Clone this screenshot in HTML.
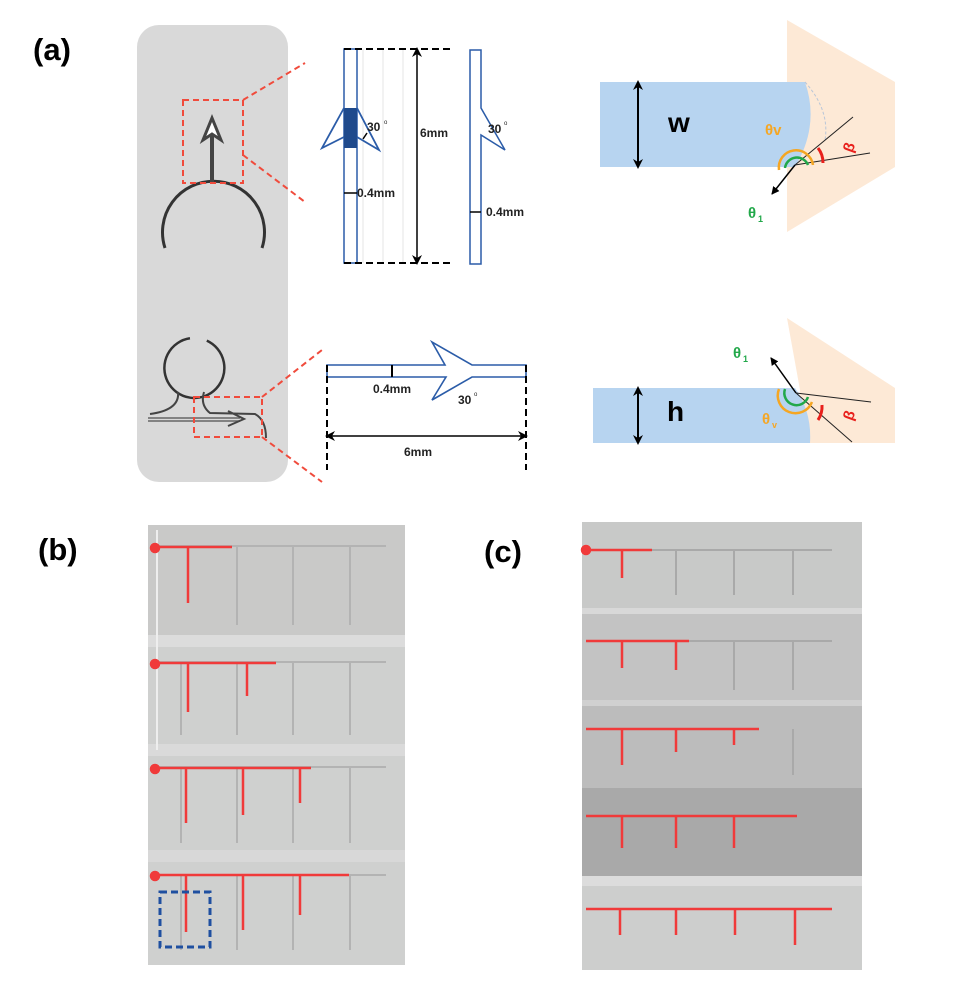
<!DOCTYPE html>
<html><head><meta charset="utf-8"><style>
html,body{margin:0;padding:0;background:#fff;}
svg{display:block;font-family:"Liberation Sans",sans-serif;}
</style></head><body>
<svg width="955" height="983" viewBox="0 0 955 983" xmlns="http://www.w3.org/2000/svg">
<defs>
<marker id="ah" markerWidth="8" markerHeight="8" refX="7" refY="4" orient="auto" markerUnits="userSpaceOnUse"><path d="M0,0 L8,4 L0,8 Z" fill="#000"/></marker>
<marker id="ahs" markerWidth="10" markerHeight="10" refX="5" refY="5" orient="auto-start-reverse" markerUnits="userSpaceOnUse"><path d="M0,0 L10,5 L0,10 L3,5 Z" fill="#000"/></marker>
</defs>
<text x="33" y="60" font-size="31" font-weight="bold">(a)</text>
<text x="38" y="560" font-size="31" font-weight="bold">(b)</text>
<text x="484" y="562" font-size="31" font-weight="bold">(c)</text>

<rect x="137" y="25" width="151" height="457" rx="22" fill="#d9d9d9"/>
<path d="M165,248 A51,51 0 1 1 262,248" fill="none" stroke="#333" stroke-width="3"/>
<line x1="212" y1="184" x2="212" y2="120" stroke="#444" stroke-width="4"/>
<path d="M203,140 L212,118 L221,140 L212,134 Z" fill="#fff" stroke="#444" stroke-width="3"/>
<rect x="183" y="100" width="60" height="83" fill="none" stroke="#f04b3c" stroke-width="2" stroke-dasharray="6,4"/>
<line x1="243" y1="100" x2="305" y2="63" stroke="#f04b3c" stroke-width="2" stroke-dasharray="6,4"/>
<line x1="243" y1="155" x2="305" y2="202" stroke="#f04b3c" stroke-width="2" stroke-dasharray="6,4"/>
<path d="M186,339 A30,30 0 1 0 203,339" fill="none" stroke="#333" stroke-width="2.5" transform="rotate(8 193 367)"/>
<path d="M178,392 Q180,410 150,414 M204,392 Q200,405 210,413 L255,414 Q266,420 266,438" fill="none" stroke="#444" stroke-width="2"/>
<path d="M148,418 L240,418 M148,421 L240,421" stroke="#666" stroke-width="1.5"/>
<path d="M228,411 L244,419 L228,426" fill="none" stroke="#444" stroke-width="2"/>
<rect x="194" y="397" width="68" height="40" fill="none" stroke="#f04b3c" stroke-width="2" stroke-dasharray="6,4"/>
<line x1="262" y1="397" x2="322" y2="350" stroke="#f04b3c" stroke-width="2" stroke-dasharray="6,4"/>
<line x1="262" y1="437" x2="322" y2="482" stroke="#f04b3c" stroke-width="2" stroke-dasharray="6,4"/>

<g stroke="#e4e4e4" stroke-width="1"><line x1="363" y1="49" x2="363" y2="263"/><line x1="383" y1="49" x2="383" y2="263"/><line x1="403" y1="49" x2="403" y2="263"/></g>
<rect x="344" y="49" width="13" height="214" fill="#fff" stroke="#2b5ca8" stroke-width="1.5"/>
<rect x="344" y="108" width="13" height="40" fill="#1f4a8c"/>
<path d="M344,108 L322,148 L344,137 M357,108 L379,150 L357,137" fill="none" stroke="#2b5ca8" stroke-width="1.8"/>
<path d="M363,139 L367,133" stroke="#000" stroke-width="1.5"/>
<text x="367" y="131" font-size="12" font-weight="bold" fill="#222">30</text><text x="384" y="124" font-size="6" fill="#222">o</text>
<line x1="344" y1="193" x2="357" y2="193" stroke="#000" stroke-width="1.5"/>
<text x="357" y="197" font-size="12" font-weight="bold" fill="#222">0.4mm</text>
<line x1="344" y1="49" x2="453" y2="49" stroke="#000" stroke-width="2" stroke-dasharray="7,4"/>
<line x1="344" y1="263" x2="453" y2="263" stroke="#000" stroke-width="2" stroke-dasharray="7,4"/>
<line x1="417" y1="52" x2="417" y2="260" stroke="#000" stroke-width="1.5" marker-start="url(#ahs)" marker-end="url(#ahs)"/>
<text x="420" y="137" font-size="12" font-weight="bold" fill="#222">6mm</text>
<path d="M470,50 L481,50 L481,108 L505,150 L481,135 L481,264 L470,264 Z" fill="#fff" stroke="#2b5ca8" stroke-width="1.5"/>
<text x="488" y="133" font-size="12" font-weight="bold" fill="#222">30</text><text x="504" y="125" font-size="6" fill="#222">o</text>
<line x1="470" y1="212" x2="481" y2="212" stroke="#000" stroke-width="1.5"/>
<text x="486" y="216" font-size="12" font-weight="bold" fill="#222">0.4mm</text>

<path d="M327,365 L445,365 L432,342 L472,365 L526,365 L526,377 L472,377 L432,400 L446,377 L327,377 Z" fill="#fff" stroke="#2b5ca8" stroke-width="1.6"/>
<line x1="392" y1="365" x2="392" y2="377" stroke="#000" stroke-width="2"/>
<text x="373" y="393" font-size="12" font-weight="bold" fill="#222">0.4mm</text>
<text x="458" y="404" font-size="12" font-weight="bold" fill="#222">30</text><text x="474" y="396" font-size="6" fill="#222">o</text>
<line x1="327" y1="365" x2="327" y2="470" stroke="#000" stroke-width="2" stroke-dasharray="7,4"/>
<line x1="526" y1="365" x2="526" y2="470" stroke="#000" stroke-width="2" stroke-dasharray="7,4"/>
<line x1="330" y1="436" x2="523" y2="436" stroke="#000" stroke-width="1.5" marker-start="url(#ahs)" marker-end="url(#ahs)"/>
<text x="404" y="456" font-size="12" font-weight="bold" fill="#222">6mm</text>

<path d="M787,20 L895,82 L895,167 L787,232 Z" fill="#fde9d6"/>
<path d="M600,82 L805,82 Q820,125 795,167 L600,167 Z" fill="#b7d4f0"/>
<path d="M805,82 Q830,110 825,140" fill="none" stroke="#b9c6d8" stroke-width="1" stroke-dasharray="3,2"/>
<line x1="638" y1="85" x2="638" y2="164" stroke="#000" stroke-width="2" marker-start="url(#ahs)" marker-end="url(#ahs)"/>
<text x="668" y="132" font-size="28" font-weight="bold">w</text>
<line x1="795" y1="165" x2="853" y2="117" stroke="#222" stroke-width="1"/>
<line x1="795" y1="165" x2="870" y2="153" stroke="#222" stroke-width="1"/>
<line x1="795" y1="165" x2="772" y2="194" stroke="#000" stroke-width="1.5" marker-end="url(#ah)"/>
<path d="M779,170 A17,17 0 0 1 813,165" fill="none" stroke="#f5a623" stroke-width="2.5"/>
<path d="M785,168 A12,12 0 0 1 808,165" fill="none" stroke="#22a84a" stroke-width="2.5"/>
<path d="M818,148 A24,24 0 0 1 823,163" fill="none" stroke="#e8201c" stroke-width="3"/>
<text x="765" y="135" font-size="15" font-weight="bold" fill="#f5a623">θv</text>
<text x="843" y="150" font-size="15" font-weight="bold" fill="#e8201c" transform="rotate(-70 850 145)">β</text>
<text x="748" y="218" font-size="15" font-weight="bold" fill="#22a84a">θ</text><text x="758" y="222" font-size="9" font-weight="bold" fill="#22a84a">1</text>

<path d="M787,318 L895,388 L895,443 L810,443 Q795,420 800,390 Z" fill="#fde9d6"/>
<path d="M593,388 L795,388 Q812,412 810,443 L593,443 Z" fill="#b7d4f0"/>
<line x1="638" y1="391" x2="638" y2="440" stroke="#000" stroke-width="2" marker-start="url(#ahs)" marker-end="url(#ahs)"/>
<text x="667" y="421" font-size="28" font-weight="bold">h</text>
<line x1="796" y1="393" x2="871" y2="402" stroke="#222" stroke-width="1"/>
<line x1="796" y1="393" x2="852" y2="442" stroke="#222" stroke-width="1"/>
<line x1="796" y1="393" x2="771" y2="358" stroke="#000" stroke-width="1.5" marker-end="url(#ah)"/>
<path d="M779,389 A17,17 0 0 0 812,402" fill="none" stroke="#f5a623" stroke-width="2.5"/>
<path d="M785,389 A12,12 0 0 0 808,397" fill="none" stroke="#22a84a" stroke-width="2.5"/>
<path d="M822,405 A24,24 0 0 1 818,420" fill="none" stroke="#e8201c" stroke-width="3"/>
<text x="733" y="358" font-size="15" font-weight="bold" fill="#22a84a">θ</text><text x="743" y="362" font-size="9" font-weight="bold" fill="#22a84a">1</text>
<text x="762" y="424" font-size="15" font-weight="bold" fill="#f5a623">θ</text><text x="772" y="428" font-size="9" font-weight="bold" fill="#f5a623">v</text>
<text x="843" y="418" font-size="15" font-weight="bold" fill="#e8201c" transform="rotate(-70 850 413)">β</text>

<rect x="148" y="525" width="257" height="440" fill="#cfd0cf"/>
<rect x="148" y="525" width="257" height="110" fill="#c9c9c8"/>
<rect x="148" y="635" width="257" height="12" fill="#dcdcdc"/>
<rect x="148" y="744" width="257" height="12" fill="#dadada"/>
<rect x="148" y="850" width="257" height="12" fill="#d8d8d8"/>
<line x1="157" y1="530" x2="157" y2="750" stroke="#eee" stroke-width="2"/>
<g stroke="#b3b3b3" stroke-width="2">
<line x1="153" y1="546" x2="386" y2="546"/><line x1="153" y1="662" x2="386" y2="662"/><line x1="153" y1="767" x2="386" y2="767"/><line x1="153" y1="875" x2="386" y2="875"/>
<line x1="237" y1="546" x2="237" y2="625"/><line x1="293" y1="546" x2="293" y2="625"/><line x1="350" y1="546" x2="350" y2="625"/>
<line x1="181" y1="662" x2="181" y2="735"/><line x1="237" y1="662" x2="237" y2="735"/><line x1="293" y1="662" x2="293" y2="735"/><line x1="350" y1="662" x2="350" y2="735"/>
<line x1="181" y1="767" x2="181" y2="843"/><line x1="237" y1="767" x2="237" y2="843"/><line x1="293" y1="767" x2="293" y2="843"/><line x1="350" y1="767" x2="350" y2="843"/>
<line x1="181" y1="875" x2="181" y2="950"/><line x1="237" y1="875" x2="237" y2="950"/><line x1="293" y1="875" x2="293" y2="950"/><line x1="350" y1="875" x2="350" y2="950"/>
</g>
<g stroke="#f03a3a" stroke-width="2.5" fill="#f03a3a">
<circle cx="155" cy="548" r="4"/><line x1="155" y1="547" x2="232" y2="547"/><line x1="188" y1="547" x2="188" y2="603"/>
<circle cx="155" cy="664" r="4"/><line x1="155" y1="663" x2="276" y2="663"/><line x1="188" y1="663" x2="188" y2="712"/><line x1="247" y1="663" x2="247" y2="696"/>
<circle cx="155" cy="769" r="4"/><line x1="155" y1="768" x2="311" y2="768"/><line x1="186" y1="768" x2="186" y2="823"/><line x1="243" y1="768" x2="243" y2="815"/><line x1="300" y1="768" x2="300" y2="803"/>
<circle cx="155" cy="876" r="4"/><line x1="155" y1="875" x2="349" y2="875"/><line x1="186" y1="875" x2="186" y2="932"/><line x1="243" y1="875" x2="243" y2="930"/><line x1="300" y1="875" x2="300" y2="915"/>
</g>
<rect x="160" y="892" width="50" height="55" fill="none" stroke="#1f4fa0" stroke-width="3" stroke-dasharray="7,4"/>

<rect x="582" y="522" width="280" height="90" fill="#c8c9c8"/>
<rect x="582" y="612" width="280" height="92" fill="#c3c3c3"/>
<rect x="582" y="704" width="280" height="84" fill="#bcbcbc"/>
<rect x="582" y="788" width="280" height="90" fill="#a9a9a9"/>
<rect x="582" y="878" width="280" height="92" fill="#cdcecd"/>
<rect x="582" y="608" width="280" height="6" fill="#d8d8d8"/>
<rect x="582" y="700" width="280" height="6" fill="#d0d0d0"/>
<rect x="582" y="876" width="280" height="10" fill="#dcdcdc"/>
<g stroke="#a9a9a9" stroke-width="2">
<line x1="622" y1="550" x2="832" y2="550"/><line x1="676" y1="550" x2="676" y2="595"/><line x1="734" y1="550" x2="734" y2="595"/><line x1="793" y1="550" x2="793" y2="595"/>
<line x1="622" y1="641" x2="832" y2="641"/><line x1="734" y1="641" x2="734" y2="690"/><line x1="793" y1="641" x2="793" y2="690"/>
<line x1="793" y1="729" x2="793" y2="775"/><line x1="793" y1="816" x2="793" y2="865"/>
</g>
<g stroke="#f03a3a" stroke-width="2.5" fill="#f03a3a">
<circle cx="586" cy="550" r="4"/><line x1="586" y1="550" x2="652" y2="550"/><line x1="622" y1="550" x2="622" y2="578"/>
<line x1="586" y1="641" x2="689" y2="641"/><line x1="622" y1="641" x2="622" y2="668"/><line x1="676" y1="641" x2="676" y2="670"/>
<line x1="586" y1="729" x2="759" y2="729"/><line x1="622" y1="729" x2="622" y2="765"/><line x1="676" y1="729" x2="676" y2="752"/><line x1="734" y1="729" x2="734" y2="745"/>
<line x1="586" y1="816" x2="797" y2="816"/><line x1="622" y1="816" x2="622" y2="848"/><line x1="676" y1="816" x2="676" y2="848"/><line x1="734" y1="816" x2="734" y2="848"/>
<line x1="586" y1="909" x2="832" y2="909"/><line x1="620" y1="909" x2="620" y2="935"/><line x1="676" y1="909" x2="676" y2="935"/><line x1="735" y1="909" x2="735" y2="935"/><line x1="795" y1="909" x2="795" y2="945"/>
</g>
</svg>
</body></html>
